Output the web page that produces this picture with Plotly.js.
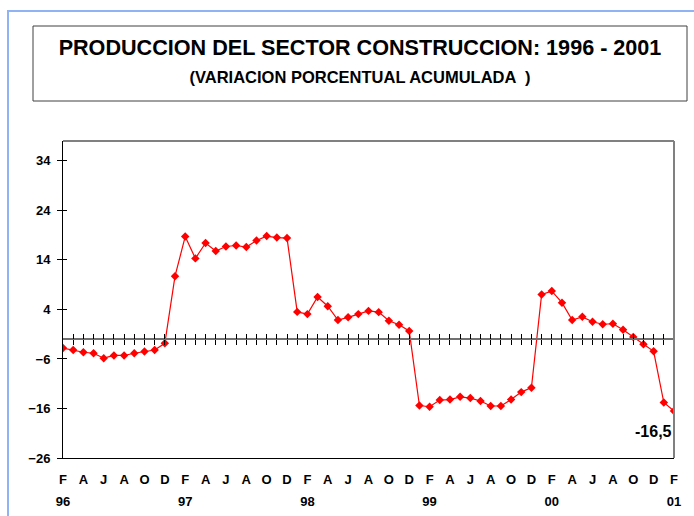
<!DOCTYPE html>
<html>
<head>
<meta charset="utf-8">
<script src="https://cdn.plot.ly/plotly-3.0.1.min.js"></script>
<style>
  body { margin: 0; background: #fff; }
  #wrap { position: relative; width: 694px; height: 516px; }
  #chart { width: 694px; height: 516px; }
  #page { position: absolute; left: 7px; top: 10px; right: 0; bottom: 0;
          border-left: 2px solid #8fb3f5; border-top: 2px solid #8fb3f5; pointer-events: none; }
</style>
</head>
<body>
<div id="wrap"><div id="chart"></div><div id="page"></div></div>
<script>
// Periods: Feb 1996 .. Feb 2001 (monthly)
const periods = [
  'Feb-96','Mar-96','Abr-96','May-96','Jun-96','Jul-96','Ago-96','Sep-96','Oct-96','Nov-96','Dic-96',
  'Ene-97','Feb-97','Mar-97','Abr-97','May-97','Jun-97','Jul-97','Ago-97','Sep-97','Oct-97','Nov-97','Dic-97',
  'Ene-98','Feb-98','Mar-98','Abr-98','May-98','Jun-98','Jul-98','Ago-98','Sep-98','Oct-98','Nov-98','Dic-98',
  'Ene-99','Feb-99','Mar-99','Abr-99','May-99','Jun-99','Jul-99','Ago-99','Sep-99','Oct-99','Nov-99','Dic-99',
  'Ene-00','Feb-00','Mar-00','Abr-00','May-00','Jun-00','Jul-00','Ago-00','Sep-00','Oct-00','Nov-00','Dic-00',
  'Ene-01','Feb-01'
];
// Accumulated percentage variation
const values = [
  -3.8, -4.2, -4.65, -4.85, -5.85, -5.3, -5.3, -4.85, -4.5, -4.2, -2.85,
  10.7, 18.7, 14.3, 17.4, 15.8, 16.7, 16.9, 16.6, 17.9, 18.8, 18.5, 18.4,
  3.5, 3.05, 6.5, 4.65, 1.85, 2.4, 3.05, 3.7, 3.45, 1.7, 0.9, -0.35,
  -15.4, -15.65, -14.3, -14.2, -13.65, -13.9, -14.5, -15.5, -15.5, -14.2, -12.7, -11.8,
  7.0, 7.7, 5.35, 1.85, 2.5, 1.5, 1.0, 1.1, -0.1, -1.55, -3.05, -4.45,
  -14.8, -16.5
];
const monthTicks = ['F','A','J','A','O','D','F','A','J','A','O','D','F','A','J','A','O','D',
                    'F','A','J','A','O','D','F','A','J','A','O','D','F'];
const yearTicks = ['96','97','98','99','00','01'];
const yTicks = [-26, -16, -6, 4, 14, 24, 34];
const lastLabel = '-16,5';
const crossLevel = -1.9;   // level of the horizontal line with monthly ticks

const xs = periods.map((_, i) => i);
const yRange = [-26, 38];
const crossPos = (crossLevel - yRange[0]) / (yRange[1] - yRange[0]);

const boldFont = { family: 'Liberation Sans, Arial, sans-serif', size: 13, color: '#000', weight: 'bold' };

const traces = [
  { x: [], y: [], xaxis: 'x2', yaxis: 'y', showlegend: false, hoverinfo: 'skip' },
  { x: [], y: [], xaxis: 'x3', yaxis: 'y', showlegend: false, hoverinfo: 'skip' },
  { x: [], y: [], xaxis: 'x4', yaxis: 'y', showlegend: false, hoverinfo: 'skip' },
  { x: [], y: [], xaxis: 'x', yaxis: 'y2', showlegend: false, hoverinfo: 'skip' },
  {
    x: xs, y: values, text: periods, type: 'scatter', mode: 'lines+markers',
    line: { color: '#ff0000', width: 1.2 },
    marker: { color: '#ff0000', symbol: 'diamond', size: 6.5 },
    showlegend: false, hovertemplate: '%{text}: %{y}<extra></extra>'
  }
];

const layout = {
  width: 694, height: 516,
  margin: { l: 63, r: 20, t: 141, b: 58 },
  paper_bgcolor: '#fff', plot_bgcolor: '#fff',
  font: { family: 'Liberation Sans, Arial, sans-serif', color: '#000' },
  showlegend: false,
  title: {
    text: 'PRODUCCION DEL SECTOR CONSTRUCCION: 1996 - 2001<br><span style="font-size:16.5px">(VARIACION PORCENTUAL ACUMULADA  )</span>',
    font: { family: 'Liberation Sans, Arial, sans-serif', size: 21.6, color: '#000', weight: 'bold' },
    xref: 'container', yref: 'container', x: 360 / 694, xanchor: 'center',
    y: 1 - 55 / 516, yanchor: 'top'
  },
  xaxis: {
    range: [0, 60], showgrid: false, zeroline: false,
    showline: true, linecolor: '#000', linewidth: 1, ticks: '',
    tickmode: 'array', tickvals: monthTicks.map((_, i) => i * 2), ticktext: monthTicks,
    tickfont: boldFont, ticklabelstandoff: 9
  },
  xaxis4: {
    overlaying: 'x', anchor: 'y', side: 'bottom',
    range: [0, 60], showgrid: false, zeroline: false, showline: false, ticks: '',
    tickmode: 'array', tickvals: yearTicks.map((_, i) => i * 12), ticktext: yearTicks,
    tickfont: boldFont, ticklabelstandoff: 34
  },
  xaxis2: {
    overlaying: 'x', anchor: 'free', position: crossPos, side: 'bottom',
    range: [0, 60], showgrid: false, zeroline: false,
    showline: true, linecolor: '#707070', linewidth: 2,
    ticks: 'outside', ticklen: 5, tickwidth: 1, tickcolor: '#000',
    tickmode: 'array', tickvals: xs.slice(1), showticklabels: false
  },
  xaxis3: {
    overlaying: 'x', anchor: 'free', position: crossPos, side: 'bottom',
    range: [0, 60], showgrid: false, zeroline: false, showline: false,
    ticks: 'inside', ticklen: 5, tickwidth: 1, tickcolor: '#000',
    tickmode: 'array', tickvals: xs.slice(1), showticklabels: false
  },
  yaxis: {
    range: yRange, showgrid: false, zeroline: false,
    showline: true, linecolor: '#000', linewidth: 1,
    ticks: 'outside', ticklen: 5, tickwidth: 1, tickcolor: '#000',
    tickmode: 'array', tickvals: yTicks, tickfont: boldFont, ticklabelstandoff: 4
  },
  yaxis2: {
    overlaying: 'y', anchor: 'x', side: 'left',
    range: yRange, showgrid: false, zeroline: false, showline: false,
    ticks: 'inside', ticklen: 4, tickwidth: 1, tickcolor: '#000',
    tickmode: 'array', tickvals: yTicks, showticklabels: false
  },
  shapes: [
    { type: 'line', xref: 'paper', yref: 'paper', x0: 0, x1: 1, y0: 1, y1: 1,
      line: { color: '#808080', width: 2 } },
    { type: 'line', xref: 'paper', yref: 'paper', x0: 1, x1: 1, y0: 0, y1: 1,
      line: { color: '#808080', width: 2 } },
    { type: 'rect', xref: 'paper', yref: 'paper',
      x0: (33 - 63) / 611, x1: (687 - 63) / 611, y0: (458 - 101) / 317, y1: (458 - 26) / 317,
      line: { color: '#404040', width: 1 }, fillcolor: 'rgba(0,0,0,0)' }
  ],
  annotations: [
    { x: xs[xs.length - 1], y: values[values.length - 1], xref: 'x', yref: 'y',
      text: lastLabel, showarrow: false, xanchor: 'right', yanchor: 'middle', yshift: -21,
      font: { family: 'Liberation Sans, Arial, sans-serif', size: 16, color: '#000', weight: 'bold' } }
  ]
};

Plotly.newPlot('chart', traces, layout, { displayModeBar: false, responsive: false, staticPlot: true });
</script>
</body>
</html>
